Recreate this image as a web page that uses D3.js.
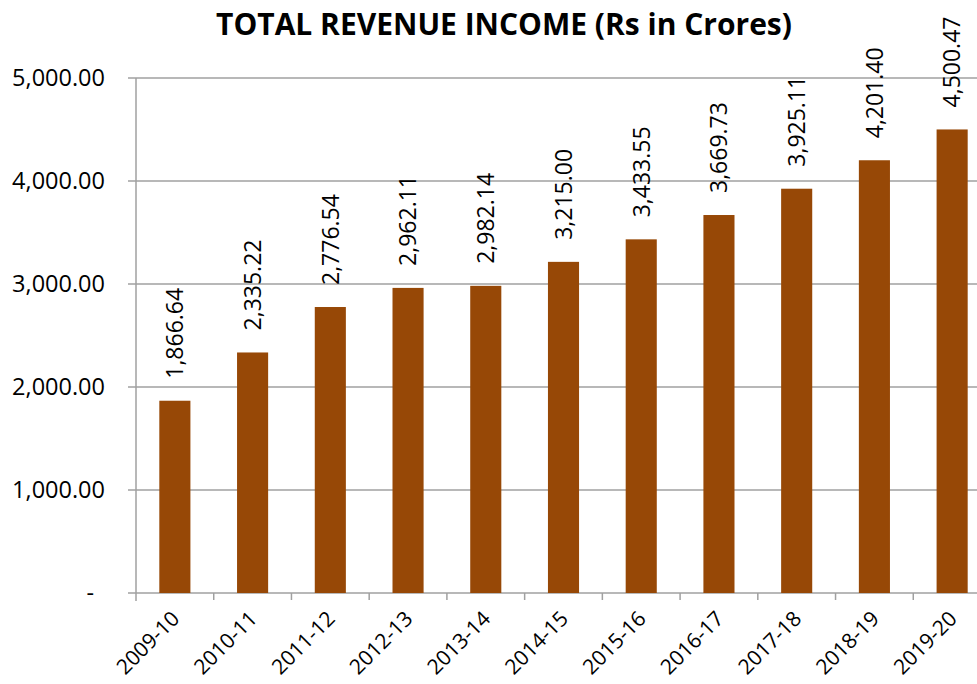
<!DOCTYPE html>
<html>
<head>
<meta charset="utf-8">
<script src="https://cdn.jsdelivr.net/npm/d3@7"></script>
<style>
  body { margin: 0; background: #fff; }
  text { font-family: "Open Sans", sans-serif; fill: #000; }
</style>
</head>
<body>
<div id="chart"></div>
<script>
const years = ["2009-10", "2010-11", "2011-12", "2012-13", "2013-14", "2014-15",
               "2015-16", "2016-17", "2017-18", "2018-19", "2019-20"];
const revenue = [1866.64, 2335.22, 2776.54, 2962.11, 2982.14, 3215.00,
                 3433.55, 3669.73, 3925.11, 4201.40, 4500.47];
const yTicks = [0, 1000, 2000, 3000, 4000, 5000];

const svgWidth = 977;
const svgHeight = 684;
const margin = { top: 78, left: 136, bottom: 91 };
const plotWidth = 855;
const plotBottom = svgHeight - margin.bottom;

const fmt = d3.format(",.2f");

const svg = d3.select("#chart")
    .append("svg")
    .attr("width", svgWidth)
    .attr("height", svgHeight);

const x = d3.scaleBand()
    .domain(years)
    .range([margin.left, margin.left + plotWidth])
    .paddingInner(0.6)
    .paddingOuter(0.3);

const y = d3.scaleLinear()
    .domain([0, 5000])
    .range([plotBottom, margin.top]);

const step = x.step();

// Title
svg.append("text")
    .attr("x", 504)
    .attr("y", 35)
    .attr("text-anchor", "middle")
    .style("font-weight", "bold")
    .style("font-size", "30px")
    .text("TOTAL REVENUE INCOME (Rs in Crores)");

// Horizontal gridlines
svg.append("g")
    .selectAll("line")
    .data(yTicks)
    .join("line")
    .attr("x1", margin.left - 8)
    .attr("x2", margin.left + plotWidth)
    .attr("y1", d => y(d))
    .attr("y2", d => y(d))
    .style("stroke", "#a0a0a0")
    .style("stroke-width", 1.5);

// Y axis line
svg.append("line")
    .attr("x1", margin.left)
    .attr("x2", margin.left)
    .attr("y1", y(5000))
    .attr("y2", plotBottom + 8)
    .style("stroke", "#a0a0a0")
    .style("stroke-width", 1.5);

// Y tick labels
svg.append("g")
    .selectAll("text")
    .data(yTicks)
    .join("text")
    .attr("x", d => d === 0 ? 94 : 105)
    .attr("y", d => y(d))
    .attr("dy", "0.36em")
    .attr("text-anchor", "end")
    .style("font-size", "23.5px")
    .text(d => d === 0 ? "-" : fmt(d));

// X category ticks
svg.append("g")
    .selectAll("line")
    .data(years)
    .join("line")
    .attr("x1", d => x(d) - step * 0.3 + step)
    .attr("x2", d => x(d) - step * 0.3 + step)
    .attr("y1", plotBottom)
    .attr("y2", plotBottom + 7)
    .style("stroke", "#a0a0a0")
    .style("stroke-width", 1.5);

// Bars
svg.append("g")
    .selectAll("rect")
    .data(revenue)
    .join("rect")
    .attr("x", (d, i) => x(years[i]))
    .attr("y", d => y(d))
    .attr("width", x.bandwidth())
    .attr("height", d => plotBottom - y(d))
    .style("fill", "#974806");

// Data labels
svg.append("g")
    .selectAll("text")
    .data(revenue)
    .join("text")
    .attr("transform", (d, i) =>
        `translate(${x(years[i]) + x.bandwidth() / 2},${y(d) - 22}) rotate(-90)`)
    .attr("dy", "0.36em")
    .attr("text-anchor", "start")
    .style("font-size", "23px")
    .text(d => fmt(d));

// X labels
svg.append("g")
    .selectAll("text")
    .data(years)
    .join("text")
    .attr("transform", d =>
        `translate(${x(d) + x.bandwidth() / 2 + 6},${plotBottom + 27}) rotate(-45)`)
    .attr("text-anchor", "end")
    .style("font-size", "21px")
    .text(d => d);
</script>
</body>
</html>
